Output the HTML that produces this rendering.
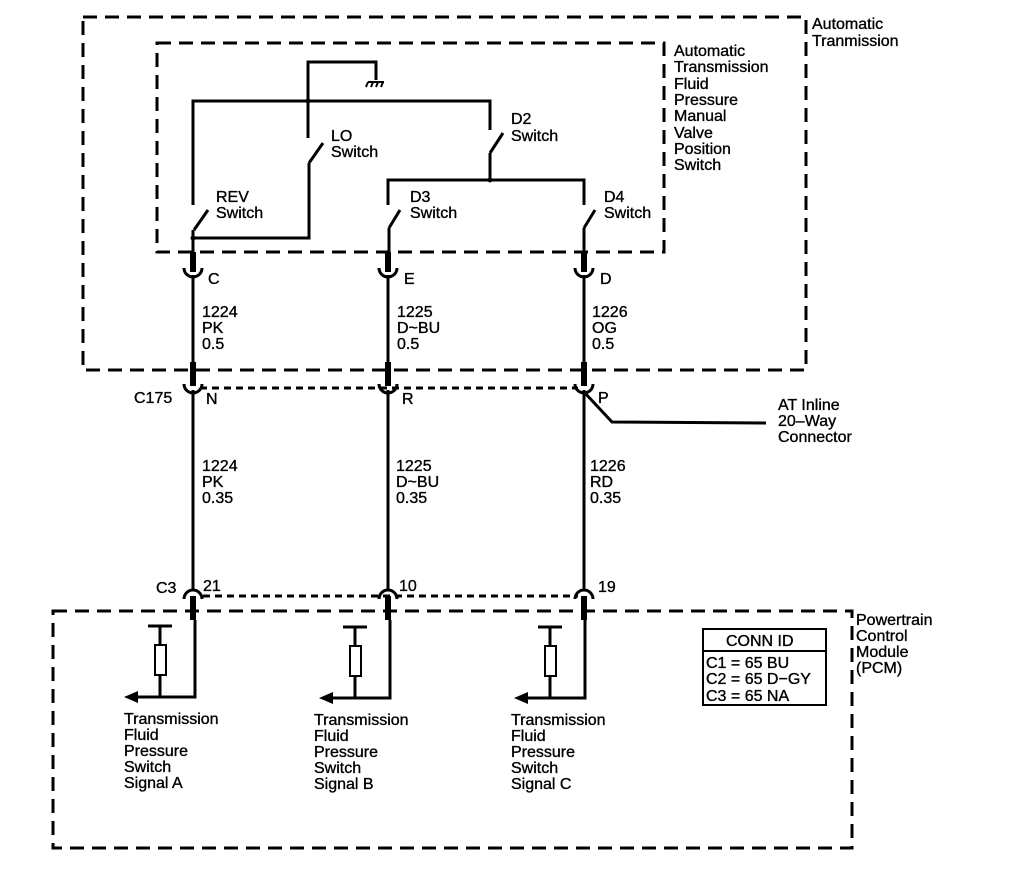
<!DOCTYPE html>
<html><head><meta charset="utf-8"><style>
html,body{margin:0;padding:0;background:#fff;width:1024px;height:886px;overflow:hidden}
svg{display:block}
text{font-family:"Liberation Sans",Arial,sans-serif;font-size:16px;fill:#000;stroke:#000;stroke-width:0.35}
</style></head><body>
<svg width="1024" height="886" viewBox="0 0 1024 886" xmlns="http://www.w3.org/2000/svg">
<g fill="none" stroke="#000">
<rect x="83" y="17" width="723" height="353" stroke-width="3" stroke-dasharray="14 8"/>
<rect x="157" y="43" width="507" height="209" stroke-width="3" stroke-dasharray="14 8"/>
<rect x="53" y="611" width="799" height="237" stroke-width="3" stroke-dasharray="14 8"/>
<line x1="200" y1="388" x2="578" y2="388" stroke-width="3" stroke-dasharray="7 5"/>
<line x1="203" y1="596" x2="578" y2="596" stroke-width="3" stroke-dasharray="7 5"/>
<g stroke-width="3">
<polyline points="308,101 308,62 376,62 376,80"/>
<polyline points="193,205 193,101 490,101 490,130"/>
<line x1="308" y1="101" x2="308" y2="138"/>
<line x1="323" y1="143" x2="309" y2="163"/>
<polyline points="309,163 309,238 193,238"/>
<line x1="208" y1="210" x2="194" y2="230"/>
<line x1="193" y1="230" x2="193" y2="252"/>
<line x1="503" y1="133" x2="490" y2="153"/>
<line x1="490" y1="153" x2="490" y2="180"/>
<polyline points="388,205 388,180 584,180 584,205"/>
<line x1="400" y1="210" x2="389" y2="228"/>
<line x1="389" y1="228" x2="389" y2="252"/>
<line x1="595" y1="210" x2="584" y2="228"/>
<line x1="584" y1="228" x2="584" y2="252"/>
<line x1="193" y1="275" x2="193" y2="385"/>
<line x1="388" y1="275" x2="388" y2="385"/>
<line x1="584" y1="275" x2="584" y2="385"/>
<line x1="193" y1="390" x2="193" y2="590"/>
<line x1="388" y1="390" x2="388" y2="590"/>
<line x1="584" y1="390" x2="584" y2="590"/>
<polyline points="584,392 612,422 766,423"/>
<path d="M184,268 A9,9 0 0 0 202,268"/>
<path d="M379,268 A9,9 0 0 0 397,268"/>
<path d="M575,268 A9,9 0 0 0 593,268"/>
<path d="M184,384 A9,9 0 0 0 202,384"/>
<path d="M379,384 A9,9 0 0 0 397,384"/>
<path d="M575,384 A9,9 0 0 0 593,384"/>
<path d="M184,599 A9,9 0 0 1 202,599"/>
<path d="M379,599 A9,9 0 0 1 397,599"/>
<path d="M575,599 A9,9 0 0 1 593,599"/>
</g>
<g stroke-width="6">
<line x1="193" y1="252" x2="193" y2="272"/>
<line x1="388" y1="252" x2="388" y2="272"/>
<line x1="584" y1="252" x2="584" y2="272"/>
<line x1="193" y1="362" x2="193" y2="386"/>
<line x1="388" y1="362" x2="388" y2="386"/>
<line x1="584" y1="362" x2="584" y2="386"/>
<line x1="193" y1="596" x2="193" y2="620"/>
<line x1="388" y1="596" x2="388" y2="620"/>
<line x1="584" y1="596" x2="584" y2="620"/>
</g>
<g stroke-width="3">
<polyline points="195,620 195,697 132,697"/>
<line x1="148" y1="626" x2="172" y2="626"/><line x1="160" y1="626" x2="160" y2="645"/>
<rect x="155" y="645" width="11" height="30" stroke-width="2"/><line x1="160" y1="675" x2="160" y2="697"/>
<polyline points="390,620 390,698 327,698"/>
<line x1="343" y1="627" x2="367" y2="627"/><line x1="355" y1="627" x2="355" y2="646"/>
<rect x="350" y="646" width="11" height="30" stroke-width="2"/><line x1="355" y1="676" x2="355" y2="698"/>
<polyline points="585,620 585,698 522,698"/>
<line x1="538" y1="627" x2="562" y2="627"/><line x1="550" y1="627" x2="550" y2="646"/>
<rect x="545" y="646" width="11" height="30" stroke-width="2"/><line x1="550" y1="676" x2="550" y2="698"/>
</g>
</g>
<g fill="#000">
<polygon points="124,697 138,691 138,703"/>
<polygon points="319,698 333,692 333,704"/>
<polygon points="514,698 528,692 528,704"/>
<circle cx="308" cy="101" r="2.5"/><circle cx="490" cy="180" r="2.5"/><circle cx="193" cy="238" r="2.5"/>
</g>
<g stroke="#000" stroke-width="2"><line x1="368" y1="82" x2="384" y2="82"/><line x1="368" y1="82" x2="366" y2="87"/><line x1="373" y1="82" x2="371" y2="87"/><line x1="378" y1="82" x2="376" y2="87"/><line x1="383" y1="82" x2="381" y2="87"/></g>
<rect x="703" y="629" width="123" height="76" fill="none" stroke="#000" stroke-width="2"/>
<line x1="703" y1="651" x2="826" y2="651" stroke="#000" stroke-width="2"/>
<text x="726" y="646">CONN ID</text>
<text x="706" y="668">C1 = 65 BU</text>
<text x="706" y="684">C2 = 65 D−GY</text>
<text x="706" y="701">C3 = 65 NA</text>
<text x="812" y="29">Automatic</text><text x="812" y="46">Tranmission</text>
<text x="674" y="56">Automatic</text><text x="674" y="72">Transmission</text><text x="674" y="89">Fluid</text><text x="674" y="105">Pressure</text><text x="674" y="121">Manual</text><text x="674" y="138">Valve</text><text x="674" y="154">Position</text><text x="674" y="170">Switch</text>
<text x="331" y="141">LO</text><text x="331" y="157">Switch</text>
<text x="511" y="124">D2</text><text x="511" y="141">Switch</text>
<text x="216" y="202">REV</text><text x="216" y="218">Switch</text>
<text x="410" y="202">D3</text><text x="410" y="218">Switch</text>
<text x="604" y="202">D4</text><text x="604" y="218">Switch</text>
<text x="208" y="284">C</text><text x="404" y="284">E</text><text x="600" y="284">D</text>
<text x="202" y="317">1224</text><text x="202" y="333">PK</text><text x="202" y="349">0.5</text>
<text x="397" y="317">1225</text><text x="397" y="333">D~BU</text><text x="397" y="349">0.5</text>
<text x="592" y="317">1226</text><text x="592" y="333">OG</text><text x="592" y="349">0.5</text>
<text x="134" y="403">C175</text><text x="206" y="404">N</text><text x="402" y="404">R</text><text x="598" y="403">P</text>
<text x="778" y="410">AT Inline</text><text x="778" y="426">20–Way</text><text x="778" y="442">Connector</text>
<text x="202" y="471">1224</text><text x="202" y="487">PK</text><text x="202" y="503">0.35</text>
<text x="396" y="471">1225</text><text x="396" y="487">D~BU</text><text x="396" y="503">0.35</text>
<text x="590" y="471">1226</text><text x="590" y="487">RD</text><text x="590" y="503">0.35</text>
<text x="156" y="593">C3</text><text x="203" y="591">21</text><text x="399" y="591">10</text><text x="598" y="592">19</text>
<text x="856" y="625">Powertrain</text><text x="856" y="641">Control</text><text x="856" y="657">Module</text><text x="856" y="673">(PCM)</text>
<text x="124" y="724">Transmission</text><text x="124" y="740">Fluid</text><text x="124" y="756">Pressure</text><text x="124" y="772">Switch</text><text x="124" y="788">Signal A</text>
<text x="314" y="725">Transmission</text><text x="314" y="741">Fluid</text><text x="314" y="757">Pressure</text><text x="314" y="773">Switch</text><text x="314" y="789">Signal B</text>
<text x="511" y="725">Transmission</text><text x="511" y="741">Fluid</text><text x="511" y="757">Pressure</text><text x="511" y="773">Switch</text><text x="511" y="789">Signal C</text>
</svg>
</body></html>
